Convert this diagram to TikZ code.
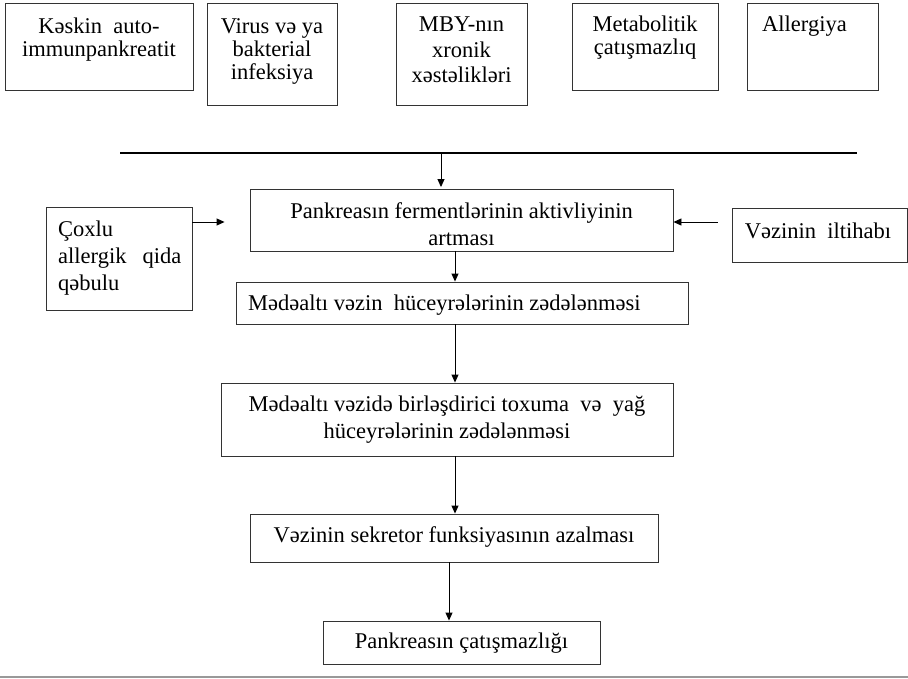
\documentclass[tikz,border=0pt]{standalone}
\usepackage{fontspec}
\setmainfont{Liberation Serif}
\usetikzlibrary{arrows.meta}
\tikzset{
  bx/.style={draw=black!80, line width=0.9pt, inner sep=0pt},
  txt/.style={inner sep=0pt, align=center, font=\fontsize{22.5}{27}\selectfont},
  tight/.style={font=\fontsize{22.5}{23}\selectfont},
  arr/.style={draw=black, line width=0.9pt, -{Triangle[length=8pt,width=7pt]}},
}
\begin{document}
\begin{tikzpicture}[x=1pt, y=-1pt]
\path[use as bounding box] (0,0) rectangle (908,678);

% upper row of causes
\node[bx, minimum width=188pt, minimum height=87pt]  (b1) at (99,46.5) {};
\node[bx, minimum width=130pt, minimum height=102pt] (b2) at (272,54) {};
\node[bx, minimum width=131pt, minimum height=102pt] (b3) at (461.5,54) {};
\node[bx, minimum width=146pt, minimum height=87pt]  (b4) at (645,46.5) {};
\node[bx, minimum width=131pt, minimum height=87pt]  (b5) at (812.5,46.5) {};

\node[txt, tight, anchor=north] (t1) at (99,18) {Kəskin\ \ auto-\\immunpankreatit};
\node[txt, tight, anchor=north] (t2) at (272,18.5) {Virus və ya\\bakterial\\infeksiya};
\node[txt, font=\fontsize{22.5}{25.5}\selectfont, anchor=north] (t3) at (461.5,17) {MBY-nın\\xronik\\xəstəlikləri};
\node[txt, tight, anchor=north] (t4) at (645,15.5) {Metabolitik\\çatışmazlıq};
\node[txt, tight, anchor=north west, align=left] (t5) at (762,15.5) {Allergiya};

% collecting line
\draw[line width=2pt] (120,153) coordinate (l0) -- (857,153) coordinate (l1);
\coordinate (h1) at (441,153);

% main chain
\node[bx, minimum width=423pt, minimum height=62pt] (pf) at (461.5,220) {};
\node[bx, minimum width=146pt, minimum height=103pt] (cq) at (119,258.5) {};
\node[bx, minimum width=175pt, minimum height=54pt] (vi) at (819.5,235) {};
\node[bx, minimum width=452pt, minimum height=42pt] (mh) at (462,303) {};
\node[bx, minimum width=452pt, minimum height=73pt] (mv) at (447,419.5) {};
\node[bx, minimum width=408pt, minimum height=48pt] (vs) at (454,538) {};
\node[bx, minimum width=277pt, minimum height=43pt] (pc) at (461.5,642.5) {};

\node[txt, anchor=north] (tpf) at (461.5,202) {Pankreasın fermentlərinin aktivliyinin\\artması};
\node[txt, anchor=north west, align=left] (tcq) at (58,220.5) {Çoxlu\\allergik\hspace{16pt}qida\\qəbulu};
\node[txt, anchor=north] (tvi) at (818,223) {Vəzinin\ \ iltihabı};
\node[txt, anchor=north west, align=left] (tmh) at (248,295) {Mədəaltı vəzin\ \ hüceyrələrinin zədələnməsi};
\node[txt, anchor=north] (tmv) at (447,396) {Mədəaltı vəzidə birləşdirici toxuma\ \ və\ \ yağ\\hüceyrələrinin zədələnməsi};
\node[txt, anchor=north] (tvs) at (454,526) {Vəzinin sekretor funksiyasının azalması};
\node[txt, anchor=north] (tpc) at (461.5,633) {Pankreasın çatışmazlığı};

% connectors
\coordinate (ay) at (0,222);
\draw[arr, shorten >=1.5pt] (h1) -- (h1 |- pf.north);
\draw[arr, shorten >=25pt] (cq.east |- ay) -- (pf.west |- ay);
\draw[arr, shorten <=14pt] (vi.west |- ay) -- (pf.east |- ay);
\coordinate (vx) at (455,0);
\draw[arr] (vx |- pf.south) -- (vx |- mh.north);
\draw[arr] (vx |- mh.south) -- (vx |- mv.north);
\draw[arr] (vx |- mv.south) -- (vx |- vs.north);
\coordinate (wx) at (449,0);
\draw[arr] (wx |- vs.south) -- (wx |- pc.north);

% page rule at the foot
\draw[black!40, line width=1.5pt] (0,677) coordinate (f0) -- (908,677) coordinate (f1);
\end{tikzpicture}
\end{document}
